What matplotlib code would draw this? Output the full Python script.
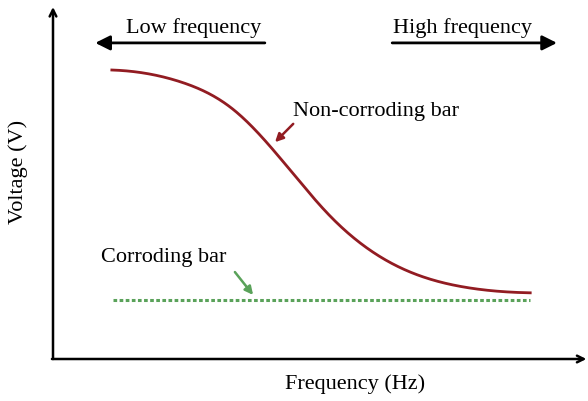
import matplotlib
matplotlib.use("Agg")
import matplotlib.pyplot as plt
import numpy as np

# schematic response curves (arbitrary units, 0..10 on both axes)
freq = [1.10, 2.43, 3.36, 4.11, 5.18, 6.43, 7.66, 8.92]
volt_noncorr = [8.21, 7.85, 7.10, 5.95, 4.06, 2.64, 2.05, 1.88]
freq_corr = [1.12, 8.92]
volt_corr = [1.68, 1.68]

red = "#921c22"
green = "#5aa25a"

plt.rcParams["font.family"] = ["Liberation Serif", "DejaVu Serif"]


def clamped_spline(x, y, xn, s0=-0.05, s1=-0.03):
    # cubic spline through the read points, end slopes fixed
    x = np.asarray(x, float); y = np.asarray(y, float)
    n = len(x)
    h = np.diff(x)
    A = np.zeros((n, n)); b = np.zeros(n)
    A[0, 0] = 2 * h[0]; A[0, 1] = h[0]
    b[0] = 3 * ((y[1] - y[0]) / h[0] - s0)
    A[-1, -2] = h[-1]; A[-1, -1] = 2 * h[-1]
    b[-1] = 3 * (s1 - (y[-1] - y[-2]) / h[-1])
    for i in range(1, n - 1):
        A[i, i - 1] = h[i - 1]
        A[i, i] = 2 * (h[i - 1] + h[i])
        A[i, i + 1] = h[i]
        b[i] = 3 * ((y[i + 1] - y[i]) / h[i] - (y[i] - y[i - 1]) / h[i - 1])
    c = np.linalg.solve(A, b)
    bb = (y[1:] - y[:-1]) / h - h * (2 * c[:-1] + c[1:]) / 3
    d = (c[1:] - c[:-1]) / (3 * h)
    idx = np.clip(np.searchsorted(x, xn) - 1, 0, n - 2)
    t = xn - x[idx]
    return y[idx] + bb[idx] * t + c[idx] * t**2 + d[idx] * t**3


fig = plt.figure(figsize=(5.88, 4.02), dpi=100)
ax = fig.add_axes([53 / 588, 42 / 402, 535 / 588, 352 / 402])
ax.set_xlim(0, 10)
ax.set_ylim(0, 10)
for s in ax.spines.values():
    s.set_visible(False)
ax.set_xticks([])
ax.set_yticks([])

# axes drawn as arrows
ax.annotate("", xy=(0, 1.0), xytext=(0, 0), xycoords="axes fraction",
            arrowprops=dict(arrowstyle="->", lw=1.8, color="black",
                            shrinkA=0, shrinkB=0, mutation_scale=12),
            annotation_clip=False)
ax.annotate("", xy=(0.997, 0), xytext=(-0.002, 0), xycoords="axes fraction",
            arrowprops=dict(arrowstyle="->", lw=1.8, color="black",
                            shrinkA=0, shrinkB=0, mutation_scale=12),
            annotation_clip=False)

xs = np.linspace(freq[0], freq[-1], 400)
ax.plot(xs, clamped_spline(freq, volt_noncorr, xs), color=red, lw=2)
ax.plot(freq_corr, volt_corr, color=green, lw=2.2, ls=(0, (1.2, 0.8)))

# labels
fs = 16
ax.text(2.62, 9.43, "Low frequency", ha="center", va="center", fontsize=fs)
ax.text(7.66, 9.43, "High frequency", ha="center", va="center", fontsize=fs)
ax.annotate("", xy=(0.79, 8.98), xytext=(3.96, 8.98),
            arrowprops=dict(arrowstyle="-|>", lw=2, color="black",
                            shrinkA=0, shrinkB=0, mutation_scale=22))
ax.annotate("", xy=(9.42, 8.98), xytext=(6.34, 8.98),
            arrowprops=dict(arrowstyle="-|>", lw=2, color="black",
                            shrinkA=0, shrinkB=0, mutation_scale=22))

ax.text(4.49, 7.05, "Non-corroding bar", ha="left", va="center", fontsize=fs)
ax.annotate("", xy=(4.15, 6.16), xytext=(4.49, 6.68),
            arrowprops=dict(arrowstyle="-|>", lw=1.8, color=red,
                            shrinkA=0, shrinkB=0, mutation_scale=12))
ax.text(0.90, 2.90, "Corroding bar", ha="left", va="center", fontsize=fs)
ax.annotate("", xy=(3.74, 1.82), xytext=(3.40, 2.47),
            arrowprops=dict(arrowstyle="-|>", lw=1.8, color=green,
                            shrinkA=0, shrinkB=0, mutation_scale=12))

fig.text(18 / 588, 1 - 172 / 402, "Voltage (V)", rotation=90,
         ha="center", va="center", fontsize=fs)
fig.text(355 / 588, 1 - 384 / 402, "Frequency (Hz)", ha="center", va="center",
         fontsize=fs)

fig.savefig("out.png", dpi=100)
